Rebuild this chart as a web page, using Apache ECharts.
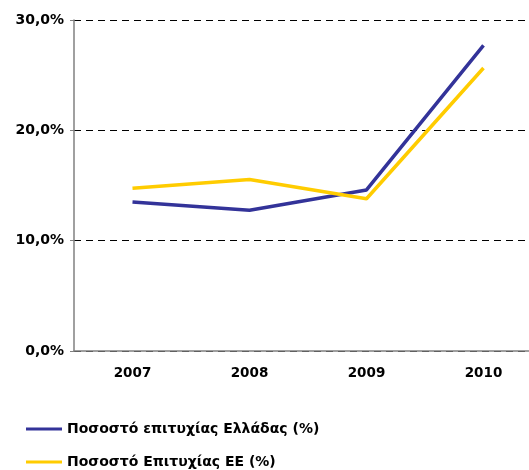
<!DOCTYPE html>
<html>
<head>
<meta charset="utf-8">
<script src="https://cdn.jsdelivr.net/npm/echarts@6/dist/echarts.min.js"></script>
<style>html,body{margin:0;padding:0;background:#fff;overflow:hidden;width:529px;height:470px}#c{width:542px;height:470px}</style>
</head>
<body>
<div id="c"></div>
<script>
var years = ['2007', '2008', '2009', '2010'];
var greece = [13.5, 12.75, 14.6, 27.7];
var eu = [14.75, 15.55, 13.8, 25.65];
var seriesNames = ['Ποσοστό επιτυχίας Ελλάδας (%)', 'Ποσοστό Επιτυχίας ΕΕ (%)'];
var yTicks = [0, 10, 20, 30];

var font = 'DejaVu Sans';
var legendBase = {
  orient: 'vertical', left: 26, padding: 0,
  icon: 'rect', itemWidth: 36, itemHeight: 3,
  textStyle: { fontFamily: font, fontWeight: 'bold', fontSize: 14, color: '#000', lineHeight: 16 }
};
var chart = echarts.init(document.getElementById('c'));
chart.setOption({
  animation: false,
  grid: { left: 74, top: 20, bottom: 119, right: 0, containLabel: false },
  legend: [
    Object.assign({}, legendBase, { top: 421, data: [seriesNames[0]] }),
    Object.assign({}, legendBase, { top: 454, data: [seriesNames[1]] })
  ],
  xAxis: {
    type: 'category', data: years, boundaryGap: true,
    axisLine: { lineStyle: { color: '#808080', width: 1.5 } },
    axisTick: { show: false },
    axisLabel: { fontFamily: font, fontWeight: 'bold', fontSize: 13.5, color: '#000', margin: 15 }
  },
  yAxis: {
    type: 'value', min: 0, max: 30, interval: 10,
    axisLine: { show: true, lineStyle: { color: '#808080', width: 1.5 } },
    axisTick: { show: true, length: 4, lineStyle: { color: '#808080' } },
    axisLabel: {
      fontFamily: font, fontWeight: 'bold', fontSize: 14, color: '#000', margin: 10,
      formatter: function (v) { return yTicks.indexOf(v) >= 0 ? v.toFixed(1).replace('.', ',') + '%' : ''; }
    },
    splitLine: { show: true, lineStyle: { color: '#000', type: [7, 5], width: 1 } }
  },
  series: [
    { name: seriesNames[0], type: 'line', data: greece, showSymbol: false, symbol: 'none',
      lineStyle: { color: '#333399', width: 3.5 }, itemStyle: { color: '#333399' } },
    { name: seriesNames[1], type: 'line', data: eu, showSymbol: false, symbol: 'none',
      lineStyle: { color: '#FFCC00', width: 3.5 }, itemStyle: { color: '#FFCC00' } }
  ]
});
</script>
</body>
</html>
